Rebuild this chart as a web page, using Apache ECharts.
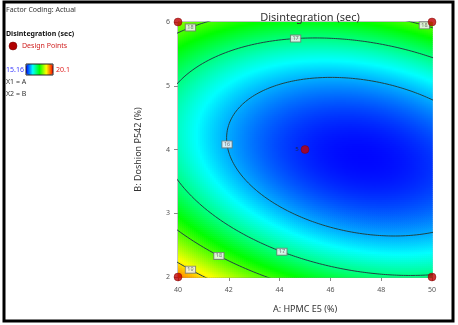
<!DOCTYPE html>
<html>
<head>
<meta charset="utf-8">
<script src="https://cdn.jsdelivr.net/npm/echarts@6/dist/echarts.min.js"></script>
<style>
html,body{margin:0;padding:0;background:#fff;}
#chart{width:458px;height:325px;}
</style>
</head>
<body>
<div id="chart"></div>
<script>
// Factor ranges in actual units
const factorA = [40, 50];   // A: HPMC E5 (%)
const factorB = [2, 6];     // B: Doshion P542 (%)

// Final equation in terms of coded factors
const modelTerms = ['Intercept', 'A', 'B', 'AB', 'A²', 'B²'];
const modelCoef  = [15.34, -0.64, -0.022, 0.594, 0.74, 2.2];

// Colour legend range of the response
const responseRange = [15.16, 20.1];

// Contour levels and where their labels sit (A value + which branch)
const contourLevels = [16, 17, 18, 19];
const contourLabelLevel = [19, 18, 17, 16, 17, 18, 18];
const contourLabelA     = [40.49, 41.61, 44.09, 41.93, 44.63, 40.49, 49.7];
const contourLabelSide  = ['low', 'low', 'low', 'low', 'high', 'high', 'high'];

// Design points (actual units) and replicate counts
const designA    = [40, 40, 50, 50, 45];
const designB    = [2, 6, 2, 6, 4];
const designReps = [1, 1, 1, 1, 5];

const colorScale = ['#0000ff', '#00ffff', '#00ff00', '#ffff00', '#ff0000'];

// ---- helpers on the coded model ----
const [b0, bA, bB, bAB, bAA, bBB] = modelCoef;
const toCodedA = A => (A - (factorA[0] + factorA[1]) / 2) / ((factorA[1] - factorA[0]) / 2);
const toCodedB = B => (B - (factorB[0] + factorB[1]) / 2) / ((factorB[1] - factorB[0]) / 2);
const toActualA = a => (factorA[0] + factorA[1]) / 2 + a * (factorA[1] - factorA[0]) / 2;
const toActualB = b => (factorB[0] + factorB[1]) / 2 + b * (factorB[1] - factorB[0]) / 2;
function predict(a, b) {
  return b0 + bA * a + bB * b + bAB * a * b + bAA * a * a + bBB * b * b;
}

// response grid cells
const NA = 127, NB = 128;
const cells = [];
for (let i = 0; i < NA; i++) {
  const A0 = factorA[0] + i * (factorA[1] - factorA[0]) / NA;
  const A1 = factorA[0] + (i + 1) * (factorA[1] - factorA[0]) / NA;
  for (let j = 0; j < NB; j++) {
    const B0 = factorB[0] + j * (factorB[1] - factorB[0]) / NB;
    const B1 = factorB[0] + (j + 1) * (factorB[1] - factorB[0]) / NB;
    cells.push([A0, B0, A1, B1, predict(toCodedA((A0 + A1) / 2), toCodedB((B0 + B1) / 2))]);
  }
}

// stationary point of the quadratic surface
const det = 4 * bAA * bBB - bAB * bAB;
const ca = (-2 * bBB * bA + bAB * bB) / det;
const cb = (-2 * bAA * bB + bAB * bA) / det;
const yMin = predict(ca, cb);

// contour lines: each level is an ellipse around the stationary point
const contourSeries = contourLevels.map(L => {
  const pts = [];
  const k = L - yMin;
  for (let t = 0; t <= 720; t++) {
    const th = t / 720 * Math.PI * 2;
    const c = Math.cos(th), s = Math.sin(th);
    const q = bAA * c * c + bAB * c * s + bBB * s * s;
    const r = Math.sqrt(k / q);
    pts.push([toActualA(ca + r * c), toActualB(cb + r * s)]);
  }
  return {
    type: 'line', data: pts, symbol: 'none', clip: true, silent: true,
    lineStyle: { color: '#204444', width: 1 }, z: 3, animation: false
  };
});

// label anchors on the contour lines
const labelPoints = contourLabelLevel.map((L, i) => {
  const a = toCodedA(contourLabelA[i]);
  const qa = bBB, qb = bB + bAB * a, qc = b0 + bA * a + bAA * a * a - L;
  const disc = Math.max(0, qb * qb - 4 * qa * qc);
  const root = contourLabelSide[i] === 'high'
    ? (-qb + Math.sqrt(disc)) / (2 * qa)
    : (-qb - Math.sqrt(disc)) / (2 * qa);
  return { value: [contourLabelA[i], toActualB(root)], level: L };
});

const chart = echarts.init(document.getElementById('chart'), null, { renderer: 'canvas' });
const FONT = 'Noto Sans';

chart.setOption({
  animation: false,
  backgroundColor: '#fff',
  textStyle: { fontFamily: FONT },
  title: {
    text: 'Disintegration (sec)', left: 305, top: 7, textAlign: 'center',
    textStyle: { fontSize: 11, fontWeight: 'normal', color: '#333', fontFamily: FONT }
  },
  grid: { left: 178, top: 22, width: 254, height: 255, show: true, borderColor: '#8a8a8a', borderWidth: 1, backgroundColor: 'transparent' },
  xAxis: {
    type: 'value', min: factorA[0], max: factorA[1], interval: 2,
    name: 'A: HPMC E5 (%)', nameLocation: 'middle', nameGap: 28,
    nameTextStyle: { fontSize: 9, color: '#333' },
    axisLine: { show: true, lineStyle: { color: '#8a8a8a' } },
    axisTick: { show: true, length: 4, lineStyle: { color: '#8a8a8a' } },
    axisLabel: { fontSize: 7, color: '#555', margin: 9 },
    splitLine: { show: false }
  },
  yAxis: {
    type: 'value', min: factorB[0], max: factorB[1], interval: 1,
    name: 'B: Doshion P542 (%)', nameLocation: 'middle', nameGap: 35,
    nameTextStyle: { fontSize: 9, color: '#333' },
    axisLine: { show: true, lineStyle: { color: '#8a8a8a' } },
    axisTick: { show: true, length: 4, lineStyle: { color: '#8a8a8a' } },
    axisLabel: { fontSize: 7, color: '#555', margin: 8 },
    splitLine: { show: false }
  },
  visualMap: {
    type: 'continuous', min: responseRange[0], max: responseRange[1],
    dimension: 4, seriesIndex: 0, orient: 'horizontal',
    left: 26, top: 64, itemWidth: 11, itemHeight: 27,
    calculable: false, hoverLink: false, text: null, padding: 0,
    inRange: { color: colorScale },
    textStyle: { fontSize: 1, color: 'rgba(0,0,0,0)' }
  },
  graphic: [
    { type: 'rect', shape: { x: 4, y: 2, width: 449, height: 319 }, style: { fill: 'none', stroke: '#000', lineWidth: 3 }, z: 100 },
    { type: 'text', left: 6, top: 6, style: { text: 'Factor Coding: Actual', fontSize: 7, fill: '#333', fontFamily: FONT } },
    { type: 'text', left: 6, top: 30, style: { text: 'Disintegration (sec)', fontSize: 7, fontWeight: 'bold', fill: '#111', fontFamily: FONT } },
    { type: 'circle', shape: { cx: 13, cy: 46, r: 4 }, style: { fill: '#b00000', stroke: '#700000', lineWidth: 0.5 } },
    { type: 'text', left: 22, top: 42, style: { text: 'Design Points', fontSize: 7, fill: '#d02020', fontFamily: FONT } },
    { type: 'text', left: 6, top: 66, style: { text: String(responseRange[0]), fontSize: 7, fill: '#3a3aff', fontFamily: FONT } },
    { type: 'rect', shape: { x: 26, y: 64, width: 27, height: 11 }, style: { fill: 'none', stroke: '#222', lineWidth: 1 }, z: 50 },
    { type: 'text', left: 56, top: 66, style: { text: String(responseRange[1]), fontSize: 7, fill: '#e02020', fontFamily: FONT } },
    { type: 'text', left: 6, top: 78, style: { text: 'X1 = A', fontSize: 7, fill: '#333', fontFamily: FONT } },
    { type: 'text', left: 6, top: 90, style: { text: 'X2 = B', fontSize: 7, fill: '#333', fontFamily: FONT } }
  ],
  series: [
    {
      type: 'custom', data: cells, clip: true, silent: true, z: 1,
      encode: { x: [0, 2], y: [1, 3] },
      renderItem: function (params, api) {
        const p0 = api.coord([api.value(0), api.value(3)]);
        const p1 = api.coord([api.value(2), api.value(1)]);
        return {
          type: 'rect',
          shape: { x: p0[0], y: p0[1], width: p1[0] - p0[0] + 0.7, height: p1[1] - p0[1] + 0.7 },
          style: { fill: api.visual('color') }
        };
      }
    },
    ...contourSeries,
    {
      type: 'scatter', data: labelPoints.map(p => ({ value: p.value, level: p.level })),
      symbol: 'rect', symbolSize: 0, z: 5, silent: true,
      label: {
        show: true, position: 'inside',
        formatter: p => String(p.data.level),
        fontSize: 5.5, color: '#555', backgroundColor: '#fff',
        borderColor: '#777', borderWidth: 1, padding: [0.5, 1.5, 0, 1.5], lineHeight: 5.5
      }
    },
    {
      type: 'scatter', clip: false, z: 6, silent: true,
      data: designA.map((a, i) => ({ value: [a, designB[i]], reps: designReps[i] })),
      symbol: 'circle', symbolSize: 8,
      itemStyle: { color: '#c00000', borderColor: '#700000', borderWidth: 0.5 },
      labelLayout: { hideOverlap: false },
      label: {
        show: true, position: 'left', distance: 2,
        formatter: p => (p.data.reps > 1 ? String(p.data.reps) : ''),
        fontSize: 6, color: '#222'
      }
    }
  ]
});
</script>
</body>
</html>
